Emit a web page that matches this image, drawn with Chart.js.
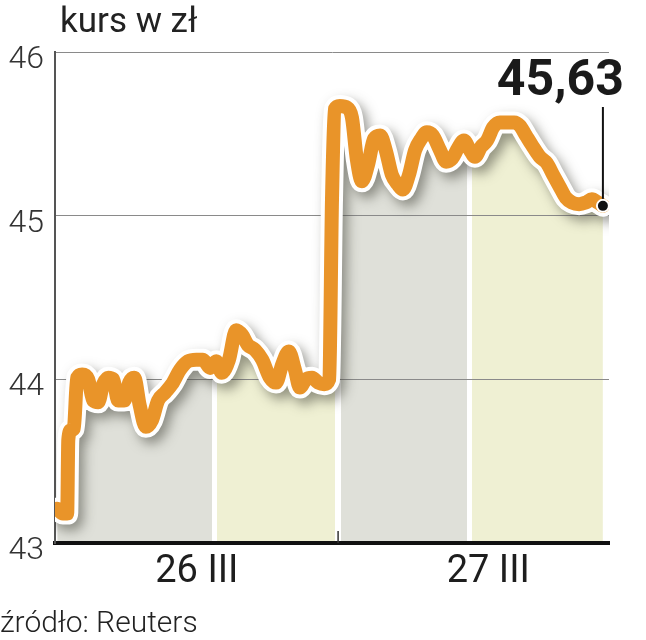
<!DOCTYPE html>
<html lang="pl">
<head>
<meta charset="utf-8">
<title>kurs w zł</title>
<script src="https://cdn.jsdelivr.net/npm/chart.js@4.4.1/dist/chart.umd.min.js"></script>
<style>
    html, body { margin: 0; padding: 0; background: #fff; }
    #wrap { position: relative; width: 646px; height: 640px; overflow: hidden; }
    #wrap canvas { position: absolute; left: 0; top: 0; }
    .title { position: absolute; left: 60px; top: 3px; font: 400 35px/1 Roboto, sans-serif; color: #222; white-space: nowrap; }
    .source { position: absolute; left: 0; top: 607px; font: 300 30px/1 Roboto, sans-serif; color: #222; white-space: nowrap; }
</style>
</head>
<body>
<div id="wrap">
    <canvas id="chart" width="646" height="640"></canvas>
    <div class="title">kurs w zł</div>
    <div class="source">źródło: Reuters</div>
</div>
<script>
// time axis: 0..100 = share of the two sessions (26 III - 27 III)
const times = [
    0.4, 1.4, 2.2, 2.4, 2.9, 3.4, 4.0, 4.9, 6.0, 6.9,
    7.8, 8.7, 9.6, 10.5, 11.4, 12.5, 13.4, 14.3, 15.3, 16.4,
    17.5, 18.6, 19.9, 21.1, 22.6, 24.0, 25.5, 26.7, 28.0, 29.1,
    30.1, 31.4, 32.7, 33.8, 34.8, 36.1, 37.4, 38.8, 39.9, 41.0,
    42.2, 43.3, 44.2, 45.3, 46.4, 47.5, 48.6, 49.5, 50.0, 50.5,
    51.4, 52.7, 53.6, 54.5, 55.4, 56.5, 57.6, 58.7, 59.7, 60.8,
    61.9, 62.8, 63.9, 65.0, 66.1, 67.1, 68.2, 69.5, 70.6, 71.7,
    72.7, 73.8, 74.9, 75.8, 76.9, 78.0, 79.1, 80.3, 81.6, 82.9,
    83.9, 85.0, 86.1, 87.5, 88.8, 89.9, 91.2, 92.2, 93.3, 94.6,
    95.8, 96.9, 98.0, 98.9
];
const prices = [
    43.21, 43.18, 43.18, 43.63, 43.69, 43.70, 44.01, 44.03, 44.00, 43.87,
    43.86, 43.97, 44.01, 44.00, 43.87, 43.87, 43.98, 44.01, 43.84, 43.71,
    43.75, 43.87, 43.92, 43.97, 44.06, 44.11, 44.12, 44.12, 44.07, 44.11,
    44.04, 44.12, 44.30, 44.27, 44.21, 44.18, 44.12, 44.01, 43.98, 44.09,
    44.17, 44.06, 43.95, 44.00, 44.01, 43.98, 43.97, 44.00, 45.10, 45.65,
    45.67, 45.66, 45.60, 45.34, 45.21, 45.31, 45.47, 45.49, 45.40, 45.25,
    45.19, 45.16, 45.25, 45.40, 45.47, 45.51, 45.49, 45.40, 45.33, 45.35,
    45.41, 45.46, 45.40, 45.36, 45.42, 45.46, 45.54, 45.57, 45.57, 45.57,
    45.55, 45.49, 45.43, 45.36, 45.32, 45.25, 45.17, 45.11, 45.08, 45.07,
    45.08, 45.10, 45.08, 45.06
];
const dayLabels = ['26 III', '27 III'];
const dayLabelAt = [25.6, 78.2];
const dayBreak = 51.1;
const bandStart = [0, 29.2, 51.6, 75.3];
const bandEnd = [28.3, 50.5, 74.4, 100];
const yTicks = [43, 44, 45, 46];
const lastValueText = '45,63';

const ORANGE = '#e99429';
const BAND_COLORS = ['#dfe0d9', '#eff0d3', '#dfe0d9', '#eff0d3'];

Chart.defaults.font.family = 'Roboto, sans-serif';

function bandFill(context) {
    const chart = context.chart;
    const { chartArea, scales } = chart;
    if (!chartArea || !scales.x) return BAND_COLORS[0];
    const x0 = chartArea.left;
    const w = chartArea.right - chartArea.left;
    const pos = v => Math.min(1, Math.max(0, (scales.x.getPixelForValue(v) - x0) / w));
    const g = chart.ctx.createLinearGradient(x0, 0, chartArea.right, 0);
    g.addColorStop(0, '#ffffff');
    bandStart.forEach((s, i) => {
        g.addColorStop(pos(s), '#ffffff');
        g.addColorStop(pos(s), BAND_COLORS[i]);
        g.addColorStop(pos(bandEnd[i]), BAND_COLORS[i]);
        g.addColorStop(pos(bandEnd[i]), '#ffffff');
    });
    g.addColorStop(1, '#ffffff');
    return g;
}

const decorations = {
    id: 'decorations',
    beforeDatasetDraw(chart, args) {
        if (args.index !== 1) return;
        const ctx = chart.ctx;
        ctx.save();
        ctx.shadowColor = 'rgba(60, 60, 50, 0.5)';
        ctx.shadowBlur = 12;
        ctx.shadowOffsetX = 5;
        ctx.shadowOffsetY = 6;
    },
    afterDatasetDraw(chart, args) {
        if (args.index === 1) chart.ctx.restore();
    },
    afterDatasetsDraw(chart) {
        const ctx = chart.ctx;
        const { chartArea, scales } = chart;

        // day break tick on the time axis
        const bx = scales.x.getPixelForValue(dayBreak);
        ctx.save();
        ctx.strokeStyle = '#333';
        ctx.lineWidth = 1.5;
        ctx.beginPath();
        ctx.moveTo(bx, chartArea.bottom - 12);
        ctx.lineTo(bx, chartArea.bottom);
        ctx.stroke();

        // leader line and last value
        const pts = chart.getDatasetMeta(0).data;
        const last = pts[pts.length - 1];
        const topY = chartArea.top + 55;
        ctx.strokeStyle = '#111';
        ctx.lineWidth = 2;
        ctx.beginPath();
        ctx.moveTo(last.x, last.y - 7);
        ctx.lineTo(last.x, topY);
        ctx.stroke();

        ctx.fillStyle = '#1a1a1a';
        ctx.font = 'bold 50px Roboto, sans-serif';
        ctx.textAlign = 'right';
        ctx.textBaseline = 'alphabetic';
        ctx.fillText(lastValueText, last.x + 21, chartArea.top + 43);
        ctx.restore();
    }
};

const points = times.map((t, i) => ({ x: t, y: prices[i] }));
const lastIndex = points.length - 1;

new Chart(document.getElementById('chart'), {
    type: 'line',
    data: {
        datasets: [
            {
                label: 'kurs',
                data: points,
                borderColor: ORANGE,
                borderWidth: 14,
                borderJoinStyle: 'round',
                borderCapStyle: 'round',
                cubicInterpolationMode: 'monotone',
                fill: false,
                pointRadius: c => (c.dataIndex === lastIndex ? 6 : 0),
                pointBackgroundColor: '#111',
                pointBorderColor: '#fff',
                pointBorderWidth: 2,
                order: 1
            },
            {
                label: 'obrys',
                data: points,
                borderColor: '#ffffff',
                borderWidth: 22,
                borderJoinStyle: 'round',
                borderCapStyle: 'round',
                cubicInterpolationMode: 'monotone',
                backgroundColor: bandFill,
                fill: 'start',
                pointRadius: 0,
                order: 2
            }
        ]
    },
    options: {
        responsive: false,
        animation: false,
        events: [],
        layout: { padding: { top: 52, right: 37, left: 0, bottom: 0 } },
        plugins: {
            legend: { display: false },
            tooltip: { enabled: false },
            filler: { drawTime: 'beforeDraw' }
        },
        scales: {
            x: {
                type: 'linear',
                min: 0,
                max: 100,
                afterFit: s => { s.height = 97; },
                afterBuildTicks: s => { s.ticks = dayLabelAt.map(v => ({ value: v })); },
                grid: { display: false, drawTicks: false },
                border: { color: '#111', width: 4 },
                ticks: {
                    autoSkip: false,
                    maxRotation: 0,
                    padding: 7,
                    color: '#1e1e1e',
                    font: { size: 38 },
                    callback: (v, i) => dayLabels[i]
                }
            },
            y: {
                min: 43,
                max: 46,
                afterFit: s => { s.width = 55; },
                afterBuildTicks: s => { s.ticks = yTicks.map(v => ({ value: v })); },
                grid: { color: '#8a8a8a', lineWidth: 1, drawTicks: false },
                border: { color: '#555', width: 2 },
                ticks: {
                    padding: 11,
                    labelOffset: 8,
                    color: '#333',
                    font: { size: 32, weight: '300' }
                }
            }
        }
    },
    plugins: [decorations]
});
</script>
</body>
</html>
